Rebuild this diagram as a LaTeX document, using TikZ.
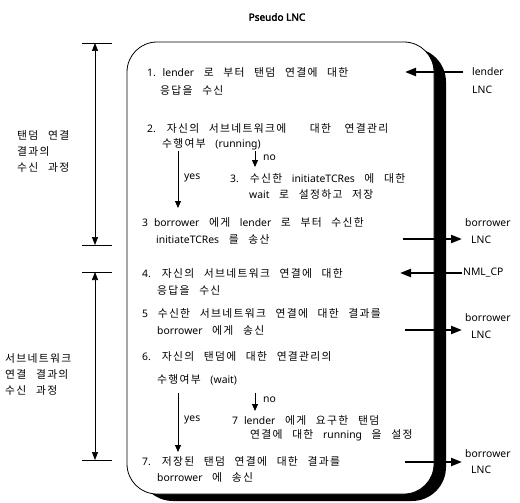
\documentclass[tikz,border=0pt]{standalone}
\usepackage{fontspec}
\setmainfont{Noto Sans CJK KR}[WordSpace=2.6, LetterSpace=12]
\newfontfamily\latfont{Noto Sans}[WordSpace=2.2, Scale=0.96]
\newfontfamily\latbold{Noto Sans}[FakeBold=2.5]
\newcommand\lt[1]{{\latfont #1}}
\usetikzlibrary{arrows.meta}
\begin{document}
\begin{tikzpicture}[x=1pt,y=-1pt,
  txt/.style={anchor=west,inner sep=0pt,font=\fontsize{10.8}{12}\selectfont},
  grp/.style={anchor=west,inner sep=0pt,align=left,font=\fontsize{10.8}{16}\selectfont},
  bigarrow/.style={line width=2.2pt,-{Triangle[length=11pt,width=8pt]}},
  smallarrow/.style={line width=0.8pt,-{Triangle[length=7pt,width=6pt]}},
  brk/.style={line width=0.7pt},
  brkarrow/.style={line width=0.7pt,{Triangle[length=8pt,width=6pt]}-{Triangle[length=8pt,width=6pt]}},
]
\useasboundingbox (0,0) rectangle (520,503);
% box with heavy shadow
\fill[black, rounded corners=34pt] (139,48) rectangle (446,501);
\draw[fill=white, line width=0.8pt, rounded corners=30pt] (127,42) rectangle (434,494);
% title
\node[inner sep=0pt,font=\fontsize{10}{12}\selectfont\latbold] (title) at (277,17) {Pseudo LNC};
% main texts
\node[txt] (t1a) at (147,72) {\lt{1. lender} 로 부터 탠덤 연결에 대한};
\node[txt] (t1b) at (160,90) {응답을 수신};
\node[txt] (t2a) at (147,128) {\lt{2.} 자신의 서브네트워크에\hspace{14pt} 대한\hspace{4pt} 연결관리};
\node[txt] (t2b) at (162,144) {수행여부 \lt{(running)}};
\node[txt] (t3a) at (230,178) {\lt{3.} 수신한 \lt{initiateTCRes} 에 대한};
\node[txt] (t3b) at (249,194) {\lt{wait} 로 설정하고 저장};
\node[txt] (t4a) at (142,222) {\lt{3 borrower} 에게 \lt{lender} 로 부터 수신한};
\node[txt] (t4b) at (156,239) {\lt{initiateTCRes} 를 송산};
\node[txt] (t5a) at (142,273) {\lt{4.} 자신의 서브네트워크 연결에 대한};
\node[txt] (t5b) at (157,290) {응답을 수신};
\node[txt] (t6a) at (142,313) {\lt{5} 수신한 서브네트워크 연결에 대한 결과를};
\node[txt] (t6b) at (157,330) {\lt{borrower} 에게 송신};
\node[txt] (t7a) at (142,356) {\lt{6.} 자신의 탠덤에 대한 연결관리의};
\node[txt] (t7b) at (157,380) {수행여부 \lt{(wait)}};
\node[txt] (t8a) at (232,420) {\lt{7 lender} 에게 요구한 탠덤};
\node[txt] (t8b) at (250,435) {연결에 대한 \lt{running} 을 설정};
\node[txt] (t9a) at (142,461) {\lt{7.} 저장된 탠덤 연결에 대한 결과를};
\node[txt] (t9b) at (157,477) {\lt{borrower} 에 송신};
% yes / no labels
\node[txt] (no1) at (263,158) {\lt{no}};
\node[txt] (yes1) at (184,178) {\lt{yes}};
\node[txt] (no2) at (263,400) {\lt{no}};
\node[txt] (yes2) at (184,420) {\lt{yes}};
% inner decision arrows
\coordinate (n1s) at (255,151); \coordinate (n1e) at (255,167);
\coordinate (y1s) at (178,151); \coordinate (y1e) at (178,208);
\coordinate (n2s) at (255,393); \coordinate (n2e) at (255,411);
\coordinate (y2s) at (178,393); \coordinate (y2e) at (178,452);
\draw[smallarrow] (n1s) -- (n1e);
\draw[smallarrow] (y1s) -- (y1e);
\draw[smallarrow] (n2s) -- (n2e);
\draw[smallarrow] (y2s) -- (y2e);
% right side labels
\node[txt] (r1a) at (472,72) {\lt{lender}};
\node[txt] (r1b) at (472,90) {\lt{LNC}};
\node[txt] (r2a) at (465,223) {\lt{borrower}};
\node[txt] (r2b) at (471,240) {\lt{LNC}};
\node[txt] (r3) at (463,273) {\lt{NML\_CP}};
\node[txt] (r4a) at (465,318) {\lt{borrower}};
\node[txt] (r4b) at (471,335) {\lt{LNC}};
\node[txt] (r5a) at (465,454) {\lt{borrower}};
\node[txt] (r5b) at (471,470) {\lt{LNC}};
% right side arrows
\coordinate (in1) at (405,72);
\coordinate (in2) at (400,273);
\coordinate (out1) at (403,239);
\coordinate (out2) at (405,330);
\coordinate (out3) at (405,462);
\draw[bigarrow] ([xshift=-9pt]in1 -| r1a.west) -- (in1);
\draw[bigarrow] ([xshift=-1pt]in2 -| r3.west) -- (in2);
\draw[bigarrow] (out1) -- ([xshift=-9pt]out1 -| r2b.west);
\draw[bigarrow] (out2) -- ([xshift=-9pt]out2 -| r4b.west);
\draw[bigarrow] (out3) -- ([xshift=-9pt]out3 -| r5b.west);
% left brackets
\coordinate (b1t) at (95,43); \coordinate (b1b) at (95,245);
\coordinate (b2t) at (95,272); \coordinate (b2b) at (95,460);
\draw[brk] ([xshift=-13pt]b1t) -- ([xshift=17pt]b1t);
\draw[brk] ([xshift=-13pt]b1b) -- ([xshift=17pt]b1b);
\draw[brk] ([xshift=-13pt]b2t) -- ([xshift=17pt]b2t);
\draw[brk] ([xshift=-13pt]b2b) -- ([xshift=17pt]b2b);
\draw[brkarrow] (b1t) -- (b1b);
\draw[brkarrow] (b2t) -- (b2b);
\node[grp] (g1) at (17,151) {탠덤 연결\\결과의\\수신 과정};
\node[grp] (g2) at (5,374) {서브네트워크\\연결 결과의\\수신 과정};
\end{tikzpicture}
\end{document}
